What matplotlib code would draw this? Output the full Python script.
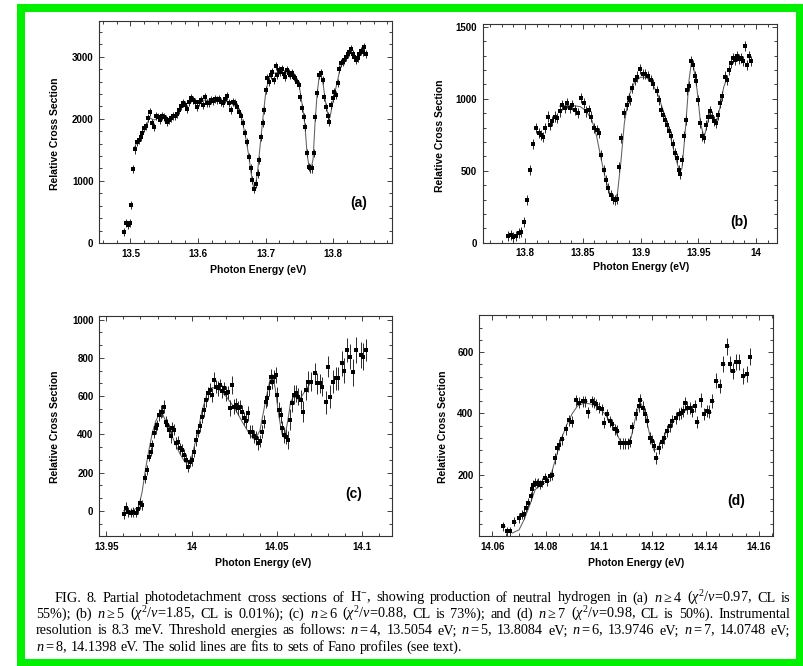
import matplotlib
matplotlib.use("Agg")
import matplotlib.pyplot as plt
from matplotlib.patches import Rectangle
from matplotlib.ticker import MultipleLocator, AutoMinorLocator, FuncFormatter

plt.rcParams['font.family'] = ['Liberation Sans', 'DejaVu Sans']
plt.rcParams['mathtext.fontset'] = 'custom'
plt.rcParams['mathtext.rm'] = 'Liberation Serif'
plt.rcParams['mathtext.it'] = 'Liberation Serif:italic'
plt.rcParams['mathtext.bf'] = 'Liberation Serif:bold'

# ---------------- data ----------------
# (a) n >= 4
energy_a = [13.4904, 13.4939, 13.4968, 13.4998, 13.5013, 13.5037, 13.5067, 13.5096, 13.5126, 13.5150,
            13.5175, 13.5205, 13.5229, 13.5259, 13.5283, 13.5313, 13.5342, 13.5372, 13.5402, 13.5431,
            13.5461, 13.5490, 13.5520, 13.5544, 13.5569, 13.5598, 13.5628, 13.5658, 13.5687, 13.5717,
            13.5746, 13.5776, 13.5805, 13.5835, 13.5864, 13.5894, 13.5923, 13.5953, 13.5983, 13.6012,
            13.6042, 13.6071, 13.6101, 13.6130, 13.6160, 13.6189, 13.6219, 13.6248, 13.6278, 13.6307,
            13.6337, 13.6367, 13.6396, 13.6426, 13.6455, 13.6485, 13.6514, 13.6544, 13.6573, 13.6603,
            13.6633, 13.6662, 13.6692,
            13.6716, 13.6751, 13.6780, 13.6800, 13.6825, 13.6849, 13.6879, 13.6898, 13.6928, 13.6953,
            13.6977, 13.7002, 13.7026, 13.7046, 13.7071, 13.7095, 13.7120, 13.7145, 13.7169, 13.7194,
            13.7218, 13.7243, 13.7268, 13.7292, 13.7317, 13.7342, 13.7366, 13.7391, 13.7415, 13.7440,
            13.7465, 13.7489, 13.7514, 13.7538, 13.7563, 13.7588, 13.7612, 13.7637, 13.7662, 13.7686,
            13.7711, 13.7735, 13.7765, 13.7794, 13.7819, 13.7844, 13.7868, 13.7893, 13.7923, 13.7942,
            13.7967, 13.7991, 13.8016, 13.8041, 13.8065, 13.8090, 13.8115, 13.8139, 13.8164, 13.8188,
            13.8213, 13.8238, 13.8262, 13.8287, 13.8311, 13.8336, 13.8361, 13.8385, 13.8410, 13.8435,
            13.8459, 13.8484]
sigma_a = [173, 329, 290, 329, 619, 1194, 1506, 1624, 1657, 1710,
           1765, 1845, 1882, 2007, 2113, 1926, 1864, 2044, 2035, 1979,
           2052, 2035, 1992, 1955, 1979, 2007, 2044, 2052, 2077, 2140,
           2205, 2248, 2222, 2152, 2274, 2329, 2303, 2274, 2190, 2274,
           2303, 2222, 2345, 2248, 2257, 2303, 2290, 2312, 2303, 2312,
           2274, 2248, 2312, 2366, 2248, 2140, 2274, 2248, 2190, 2113,
           2044, 1926, 1765,
           1629, 1387, 1200, 1011, 877, 958, 1119, 1334, 1710, 1926,
           2140, 2463, 2652, 2598, 2705, 2758, 2625, 2850, 2705, 2785,
           2758, 2796, 2721, 2668, 2785, 2732, 2705, 2732, 2678, 2652,
           2598, 2544, 2355, 2168, 2035, 1871, 1442, 1226, 1200, 1200,
           1442, 2035, 2410, 2705, 2732, 2625, 2355, 2194, 2052, 1955,
           2222, 2329, 2436, 2382, 2571, 2796, 2894, 2920, 2947, 3000,
           3044, 3081, 3120, 3050, 3000, 2947, 2975, 3050, 3090, 3081,
           3162, 3044]
err_a = 65
fit_energy_a = [13.505, 13.510, 13.515, 13.520, 13.525, 13.528, 13.531, 13.535, 13.540, 13.545,
                13.550, 13.555, 13.560, 13.565, 13.570, 13.575, 13.580, 13.590, 13.600, 13.610,
                13.620, 13.630, 13.640, 13.645, 13.650, 13.655, 13.660, 13.665, 13.670, 13.675,
                13.679, 13.682, 13.685, 13.688, 13.692, 13.696, 13.700, 13.704, 13.710, 13.720,
                13.730, 13.740, 13.745, 13.750, 13.755, 13.758, 13.761, 13.764, 13.767, 13.770,
                13.773, 13.776, 13.779, 13.782, 13.785, 13.788, 13.792, 13.795, 13.798, 13.802,
                13.806, 13.810, 13.815, 13.820]
fit_sigma_a = [1520, 1630, 1710, 1800, 1920, 2020, 2000, 1980, 2010, 2020,
               2010, 1990, 2010, 2050, 2110, 2180, 2230, 2280, 2290, 2300,
               2300, 2295, 2285, 2270, 2240, 2200, 2150, 1980, 1720, 1400,
               1080, 890, 930, 1150, 1600, 2030, 2420, 2630, 2730, 2750,
               2740, 2700, 2640, 2500, 2150, 1900, 1450, 1230, 1190, 1350,
               1950, 2400, 2680, 2700, 2550, 2300, 2060, 2020, 2200, 2420,
               2600, 2820, 2940, 3020]

# (b) n >= 5
energy_b = [13.7853, 13.7876, 13.7899, 13.7922, 13.7945, 13.7968, 13.7991, 13.8017, 13.8046, 13.8072,
            13.8095, 13.8118, 13.8139, 13.8156, 13.8173, 13.8196, 13.8219, 13.8234, 13.8257, 13.8280,
            13.8303, 13.8323, 13.8343, 13.8367, 13.8387, 13.8407, 13.8430, 13.8456, 13.8482, 13.8508,
            13.8531, 13.8551, 13.8574, 13.8597, 13.8621, 13.8638, 13.8661, 13.8684, 13.8701, 13.8719,
            13.8742, 13.8762, 13.8776, 13.8794, 13.8811, 13.8834, 13.8860, 13.8880, 13.8898,
            13.8906, 13.8926, 13.8950, 13.8973, 13.8996, 13.9019, 13.9042, 13.9065, 13.9088, 13.9111,
            13.9140, 13.9163, 13.9181, 13.9198, 13.9215, 13.9232, 13.9244, 13.9261, 13.9279, 13.9296,
            13.9313, 13.9331, 13.9342, 13.9359, 13.9377, 13.9391, 13.9406, 13.9417, 13.9435, 13.9452,
            13.9469, 13.9481, 13.9498, 13.9515, 13.9533, 13.9550, 13.9567, 13.9584, 13.9602, 13.9619,
            13.9636, 13.9654, 13.9671, 13.9688, 13.9706, 13.9729, 13.9746, 13.9763, 13.9781, 13.9798,
            13.9815, 13.9833, 13.9850, 13.9867, 13.9885, 13.9902, 13.9919, 13.9937, 13.9954]
sigma_b = [47, 54, 38, 47, 70, 77, 146, 297, 506, 687,
           797, 764, 748, 732, 797, 877, 820, 843, 877, 866,
           912, 959, 936, 970, 936, 959, 925, 902, 1005, 970,
           912, 920, 877, 797, 785, 764, 611, 506, 437, 379,
           332, 302, 297, 307, 529, 727, 902, 959, 1005,
           994, 1075, 1133, 1155, 1207, 1170, 1175, 1160, 1133, 1100,
           1052, 994, 924, 890, 855, 820, 775, 740, 683, 622,
           588, 506, 478, 575, 740, 855, 1063, 1086, 1260, 1237,
           1160, 1121, 994, 832, 740, 729, 820, 877, 912, 877,
           843, 832, 890, 970, 1017, 1155, 1133, 1200, 1249, 1283,
           1272, 1295, 1277, 1283, 1260, 1365, 1237, 1295, 1260]
err_b = 35
fit_energy_b = [13.830, 13.840, 13.848, 13.853, 13.858, 13.862, 13.866, 13.870, 13.874, 13.877,
                13.880, 13.883, 13.886, 13.890, 13.895, 13.900, 13.905, 13.910, 13.915, 13.920,
                13.925, 13.930, 13.934, 13.936, 13.939, 13.942, 13.944, 13.946, 13.949, 13.952,
                13.955, 13.958, 13.960, 13.963, 13.966, 13.969, 13.972, 13.975]
fit_sigma_b = [950, 955, 945, 915, 850, 740, 580, 430, 330, 295,
               340, 560, 830, 1020, 1120, 1150, 1150, 1110, 1030, 910,
               770, 600, 490, 520, 800, 1130, 1250, 1220, 1060, 830,
               730, 830, 900, 870, 840, 950, 1080, 1150]

# (c) n >= 6
energy_c = [13.9604, 13.9617, 13.9629, 13.9643, 13.9656, 13.9672, 13.9684, 13.9695, 13.9707, 13.9725,
            13.9740, 13.9750, 13.9760, 13.9770, 13.9779, 13.9789, 13.9799, 13.9809, 13.9819, 13.9828,
            13.9838, 13.9848, 13.9858, 13.9867, 13.9877, 13.9887, 13.9897, 13.9906, 13.9918, 13.9930,
            13.9942, 13.9953, 13.9965, 13.9977, 13.9989, 14.0000, 14.0012, 14.0024, 14.0035, 14.0047,
            14.0059, 14.0071, 14.0082, 14.0094, 14.0106, 14.0117, 14.0129, 14.0141, 14.0153, 14.0164,
            14.0176, 14.0188, 14.0200, 14.0211, 14.0223, 14.0235, 14.0246, 14.0258, 14.0270, 14.0282,
            14.0293, 14.0305, 14.0317, 14.0328, 14.0340, 14.0352, 14.0364, 14.0375, 14.0387, 14.0399,
            14.0411, 14.0422, 14.0434, 14.0444, 14.0454, 14.0463, 14.0473, 14.0483, 14.0493, 14.0502,
            14.0512, 14.0522, 14.0532, 14.0543, 14.0555, 14.0567, 14.0579,
            14.0590, 14.0602, 14.0614, 14.0625, 14.0639, 14.0653, 14.0672, 14.0684, 14.0700, 14.0723,
            14.0737, 14.0750, 14.0762, 14.0786, 14.0797, 14.0811, 14.0829, 14.0848, 14.0860, 14.0879,
            14.0893, 14.0913, 14.0926, 14.0946, 14.0965, 14.0991, 14.1005, 14.1020]
sigma_c = [-17, 16, -5, -10, -5, -10, 9, 39, 30, 170,
           213, 283, 309, 343, 405, 432, 450, 501, 518, 518,
           545, 467, 450, 424, 389, 432, 424, 354, 359, 327,
           318, 292, 266, 231, 257, 266, 309, 370, 414, 441,
           493, 528, 580, 615, 632, 606, 684, 650, 641, 656,
           624, 641, 615, 620, 537, 658, 545, 554, 537, 545,
           518, 484, 470, 510, 414, 414, 389, 380, 354, 366,
           414, 466, 571, 588, 641, 702, 676, 702, 711, 606,
           527, 501, 431, 396, 388, 370, 476,
           562, 606, 615, 597, 580, 518, 632, 675, 675, 719,
           667, 667, 649, 568, 754, 597, 675, 693, 693, 772,
           732, 841, 806, 725, 841, 815, 806, 841]
err_c = [25, 30, 25, 25, 25, 25, 25, 30, 25, 25,
         25, 25, 25, 25, 25, 30, 25, 30, 35, 30,
         35, 30, 30, 30, 35, 30, 30, 30, 30, 30,
         30, 30, 30, 30, 30, 30, 30, 30, 30, 30,
         35, 35, 35, 35, 35, 35, 40, 35, 40, 35,
         35, 35, 40, 35, 40, 45, 40, 35, 35, 35,
         35, 35, 35, 40, 35, 35, 35, 35, 35, 30,
         35, 35, 35, 40, 40, 40, 40, 35, 40, 40,
         40, 40, 40, 40, 40, 45, 55,
         45, 50, 45, 45, 50, 55, 50, 55, 50, 55,
         55, 50, 50, 60, 55, 60, 60, 60, 60, 65,
         65, 65, 65, 70, 70, 70, 70, 60]
fit_energy_c = [13.960, 13.965, 13.969, 13.971, 13.973, 13.975, 13.977, 13.979, 13.981, 13.983,
                13.985, 13.987, 13.990, 13.993, 13.996, 13.998, 14.000, 14.003, 14.006, 14.009,
                14.012, 14.016, 14.020, 14.025, 14.030, 14.034, 14.037, 14.040, 14.043, 14.046,
                14.0475, 14.049, 14.051, 14.053, 14.0545, 14.0565, 14.058, 14.060, 14.063, 14.066,
                14.069]
fit_sigma_c = [0, 0, 20, 100, 220, 320, 410, 470, 505, 505,
               465, 420, 360, 300, 255, 250, 280, 390, 520, 610,
               645, 635, 600, 540, 460, 400, 370, 420, 560, 690,
               700, 640, 500, 400, 380, 480, 570, 600, 580, 620,
               660]

# (d) n >= 7
energy_d = [14.0641, 14.0654, 14.0666, 14.0683, 14.0700, 14.0710, 14.0719, 14.0728, 14.0735, 14.0744,
            14.0750, 14.0754, 14.0760, 14.0766, 14.0773, 14.0779, 14.0788, 14.0798, 14.0806, 14.0815,
            14.0825, 14.0835, 14.0844, 14.0850, 14.0863, 14.0875, 14.0888, 14.0898, 14.0913, 14.0925,
            14.0938, 14.0948, 14.0960, 14.0973, 14.0981, 14.0990, 14.1000, 14.1010, 14.1019, 14.1031,
            14.1041, 14.1050, 14.1060, 14.1069, 14.1079, 14.1088, 14.1098, 14.1108, 14.1116, 14.1125,
            14.1138, 14.1148, 14.1155, 14.1163, 14.1173, 14.1181, 14.1190, 14.1198, 14.1206, 14.1215,
            14.1225, 14.1235, 14.1245, 14.1256, 14.1265, 14.1275, 14.1288, 14.1298, 14.1306, 14.1315,
            14.1323, 14.1331, 14.1340, 14.1350, 14.1360, 14.1369, 14.1381, 14.1394, 14.1404, 14.1413,
            14.1425, 14.1440, 14.1454, 14.1466, 14.1481, 14.1490, 14.1504, 14.1515, 14.1525, 14.1541,
            14.1554, 14.1566]
sigma_d = [31, 15, 15, 46, 59, 70, 72, 92, 108, 130,
           152, 168, 174, 170, 174, 168, 174, 190, 179, 195,
           200, 254, 287, 298, 315, 348, 377, 373, 443, 435,
           439, 439, 403, 439, 435, 430, 419, 413, 370, 397,
           375, 364, 348, 343, 302, 302, 302, 302, 308, 354,
           397, 424, 443, 419, 397, 375, 319, 310, 294, 254,
           288, 307, 320, 342, 359, 375, 384, 397, 402, 408,
           435, 419, 417, 408, 424, 373, 443, 397, 408, 406,
           441, 507, 489, 562, 619, 562, 538, 568, 568, 521,
           527, 585]
err_d = [15, 15, 15, 15, 15, 15, 15, 15, 15, 15,
         15, 15, 15, 15, 15, 15, 15, 15, 15, 15,
         18, 18, 18, 18, 18, 18, 18, 18, 18, 18,
         18, 18, 18, 18, 18, 18, 18, 18, 18, 18,
         18, 18, 18, 18, 18, 18, 18, 18, 18, 18,
         20, 20, 20, 20, 20, 20, 20, 20, 20, 20,
         20, 20, 20, 20, 20, 20, 20, 20, 20, 20,
         20, 20, 20, 20, 20, 20, 22, 20, 20, 20,
         22, 24, 24, 26, 28, 26, 26, 26, 26, 26,
         26, 28]
fit_energy_d = [14.0675, 14.070, 14.072, 14.074, 14.076, 14.078, 14.080, 14.082, 14.084, 14.086,
                14.088, 14.090, 14.092, 14.094, 14.096, 14.098, 14.100, 14.102, 14.104, 14.106,
                14.108, 14.110, 14.112, 14.114, 14.1155, 14.117, 14.119, 14.1205, 14.122, 14.124,
                14.126, 14.128, 14.130, 14.132, 14.134, 14.1355]
fit_sigma_d = [10, 20, 55, 100, 150, 170, 180, 200, 260, 320,
               365, 400, 425, 432, 432, 428, 418, 400, 375, 345,
               310, 298, 320, 400, 435, 410, 330, 280, 285, 320,
               350, 378, 395, 408, 415, 420]

# ---------------- layout ----------------
W, H = 804, 666
fig = plt.figure(figsize=(W / 100, H / 100), dpi=100)


def px_box(x0, y0, x1, y1):
    return [x0 / W, 1 - y1 / H, (x1 - x0) / W, (y1 - y0) / H]


def fmt(v, pos):
    return f"{v:.3f}".rstrip('0').rstrip('.')


panels = [
    dict(E=energy_a, S=sigma_a, err=err_a, xerr=0.0012, fE=fit_energy_a, fS=fit_sigma_a,
         box=(99, 21, 392, 243), xlim=(13.4535, 13.8867), ylim=(0, 3575),
         xt=[13.5, 13.6, 13.7, 13.8], yt=[0, 1000, 2000, 3000], xm=0.02, ym=MultipleLocator(200),
         tag='(a)', tagpos=(0.887, 0.179), xl=(0.542, -0.122), yl=(-0.150, 0.49)),
    dict(E=energy_b, S=sigma_b, err=err_b, xerr=0.0009, fE=fit_energy_b, fS=fit_sigma_b,
         box=(482.7, 24, 776.7, 242.7), xlim=(13.7634, 14.0179), ylim=(0, 1520),
         xt=[13.8, 13.85, 13.9, 13.95, 14.0], yt=[0, 500, 1000, 1500], xm=0.01, ym=MultipleLocator(100),
         tag='(b)', tagpos=(0.872, 0.096), xl=(0.538, -0.110), yl=(-0.145, 0.49)),
    dict(E=energy_c, S=sigma_c, err=err_c, xerr=0.0006, fE=fit_energy_c, fS=fit_sigma_c,
         box=(99, 316, 392, 536), xlim=(13.9457, 14.1174), ylim=(-132, 1019),
         xt=[13.95, 14.0, 14.05, 14.1], yt=[0, 200, 400, 600, 800, 1000], xm=0.01, ym=AutoMinorLocator(3),
         tag='(c)', tagpos=(0.870, 0.19), xl=(0.561, -0.124), yl=(-0.150, 0.497)),
    dict(E=energy_d, S=sigma_d, err=err_d, xerr=0.0005, fE=fit_energy_d, fS=fit_sigma_d,
         box=(479, 315.3, 772.7, 536), xlim=(14.055, 14.1651), ylim=(0, 720),
         xt=[14.06, 14.08, 14.1, 14.12, 14.14, 14.16], yt=[200, 400, 600], xm=0.005, ym=MultipleLocator(40),
         tag='(d)', tagpos=(0.877, 0.159), xl=(0.534, -0.124), yl=(-0.1226, 0.495)),
]

for p in panels:
    ax = fig.add_axes(px_box(*p['box']))
    ax.plot(p['fE'], p['fS'], color='#606060', lw=0.75, zorder=2)
    ax.errorbar(p['E'], p['S'], yerr=p['err'], xerr=p['xerr'], fmt='s', ms=2.4, mew=0,
                color='black', ecolor='#2a2a2a', elinewidth=0.7, capsize=0, zorder=3)
    ax.set_xlim(*p['xlim'])
    ax.set_ylim(*p['ylim'])
    ax.set_xticks(p['xt'])
    ax.set_yticks(p['yt'])
    ax.xaxis.set_minor_locator(MultipleLocator(p['xm']))
    ax.yaxis.set_minor_locator(p['ym'])
    ax.xaxis.set_major_formatter(FuncFormatter(fmt))
    ax.yaxis.set_major_formatter(FuncFormatter(fmt))
    ax.tick_params(which='both', direction='in', top=True, right=True, width=0.6, colors='#222222')
    ax.tick_params(which='major', length=3.8, labelsize=7, pad=4)
    ax.tick_params(which='minor', length=2.0)
    for lab in ax.get_xticklabels() + ax.get_yticklabels():
        lab.set_fontweight('bold')
        lab.set_color('black')
    for s in ax.spines.values():
        s.set_linewidth(0.8)
        s.set_color('#333333')
    ax.set_xlabel('Photon Energy (eV)', fontsize=7.5, fontweight='bold', va='center')
    ax.set_ylabel('Relative Cross Section', fontsize=7.5, fontweight='bold', va='center')
    ax.xaxis.set_label_coords(*p['xl'])
    ax.yaxis.set_label_coords(*p['yl'])
    ax.text(*p['tagpos'], p['tag'], transform=ax.transAxes, fontsize=10, fontweight='bold',
            ha='center', va='center')

# green frame round the whole figure
fig.add_artist(Rectangle((21 / W, 1 - 663 / H), (800.5 - 21) / W, (663 - 8) / H,
                         transform=fig.transFigure, fill=False, edgecolor='#00f000', lw=5.8))

# caption, justified line by line
caption = [
    (r"FIG. 8. Partial photodetachment cross sections of H$^{-}$, showing production of neutral "
     r"hydrogen in (a) $n\geq4$ ($\chi^2/\nu$=0.97, CL is", 54.6, True),
    (r"55%); (b) $n\geq5$ ($\chi^2/\nu$=1.85, CL is 0.01%); (c) $n\geq6$ ($\chi^2/\nu$=0.88, CL is 73%); "
     r"and (d) $n\geq7$ ($\chi^2/\nu$=0.98, CL is 50%). Instrumental", 36, True),
    (r"resolution is 8.3 meV. Threshold energies as follows: $n=4$, 13.5054 eV; $n=5$, 13.8084 eV; "
     r"$n=6$, 13.9746 eV; $n=7$, 14.0748 eV;", 36, True),
    (r"$n=8$, 14.1398 eV. The solid lines are fits to sets of Fano profiles (see text).", 36, False),
]
cap_base = [601.5, 618, 634.5, 651]
renderer = fig.canvas.get_renderer()
cap_size = 10.3
right_edge = 790
for (line, x0, justify), ypx in zip(caption, cap_base):
    words = line.split(' ')
    texts = [fig.text(0, 1 - ypx / H, w, fontsize=cap_size, family='Liberation Serif',
                      ha='left', va='baseline') for w in words]
    widths = [t.get_window_extent(renderer).width for t in texts]
    if justify:
        gap = (right_edge - x0 - sum(widths)) / (len(words) - 1)
    else:
        gap = cap_size * 0.25 * 100 / 72
    x = x0
    for t, w in zip(texts, widths):
        t.set_x(x / W)
        x += w + gap

fig.savefig('out.png', dpi=100)
